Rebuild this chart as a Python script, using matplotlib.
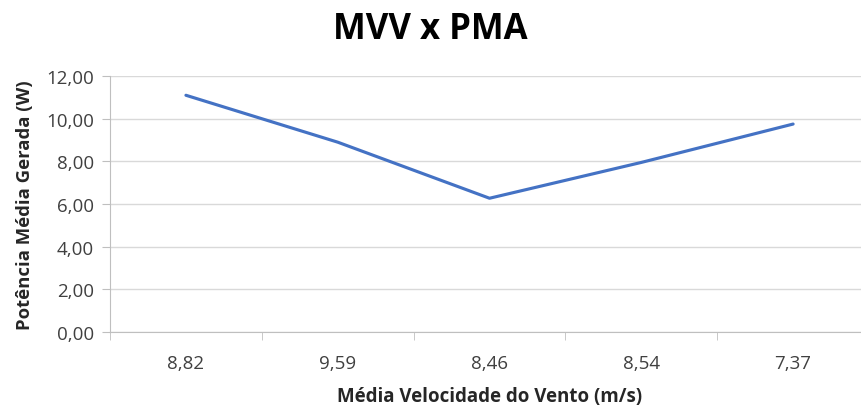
import matplotlib
matplotlib.use("Agg")
import matplotlib.pyplot as plt
import numpy as np

categories = ["8,82", "9,59", "8,46", "8,54", "7,37"]
values = [11.10, 8.90, 6.27, 7.95, 9.75]
yticks = [0, 2, 4, 6, 8, 10, 12]
ytick_labels = ["0,00", "2,00", "4,00", "6,00", "8,00", "10,00", "12,00"]

plt.rcParams['font.family'] = ['Open Sans', 'DejaVu Sans']

fig = plt.figure(figsize=(8.61, 4.10), dpi=100)
ax = fig.add_axes([0.1278, 0.188, 0.8815, 0.624])

x = np.arange(len(categories))
ax.plot(x, values, color="#4472C4", linewidth=2.25, solid_capstyle="round")

ax.set_xlim(-0.5, len(categories) - 0.5)
ax.set_ylim(0, 12)
ax.set_yticks(yticks)
ax.set_yticklabels(ytick_labels, fontsize=13.5, color="#404040")
ax.set_xticks(x)
ax.set_xticklabels(categories, fontsize=13.5, color="#404040")
ax.tick_params(axis="x", length=0, pad=16)
ax.set_xticks(np.arange(-0.5, len(categories)), minor=True)
ax.tick_params(axis="x", which="minor", length=5.5, color="#BFBFBF", direction="out")
ax.tick_params(axis="y", length=5.5, color="#BFBFBF", direction="out", pad=6)

ax.grid(axis="y", color="#D9D9D9", linewidth=1)
ax.set_axisbelow(True)
for s in ["top", "right"]:
    ax.spines[s].set_visible(False)
ax.spines["left"].set_color("#BFBFBF")
ax.spines["bottom"].set_color("#BFBFBF")

ax.set_xlabel("Média Velocidade do Vento (m/s)", fontsize=13.5, fontweight="bold", color="#262626", labelpad=10)
ax.set_ylabel("Potência Média Gerada (W)", fontsize=13.3, fontweight="bold", color="#262626", labelpad=9)
fig.suptitle("MVV x PMA", fontsize=25, fontweight="bold", color="#000000", y=0.97)

fig.savefig("out.png", dpi=100)
